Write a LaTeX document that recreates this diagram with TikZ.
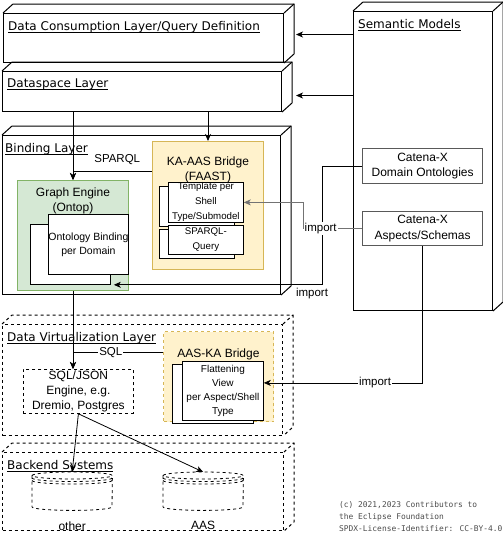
\documentclass[tikz,border=0pt]{standalone}
\usepackage{fontspec}
\setmainfont{Liberation Sans}
\newfontfamily\layerfont{DejaVu Sans}
\newfontfamily\notefont{DejaVu Sans Mono}
\usetikzlibrary{positioning,arrows.meta,shadows}

\definecolor{greenfill}{HTML}{D5E8D4}
\definecolor{greenline}{HTML}{82B366}
\definecolor{yellowfill}{HTML}{FFF2CC}
\definecolor{yellowline}{HTML}{D6B656}

% underline close to the baseline
\newsavebox{\undlbox}
\newcommand{\undl}[1]{\sbox\undlbox{#1}\rlap{\vrule width \wd\undlbox height -1.2pt depth 2.2pt}\usebox\undlbox}
% top and right faces of a layer box
\newcommand{\cubefaces}[2][]{%
  \draw[#1] (#2.north west) -- ++(10,-9) -| ([shift={(10,-9)}]#2.south east) -- (#2.south east);
  \draw[#1] (#2.north east) -- ++(10,-9);}
% data store drum
\newcommand{\dbdraw}[1]{%
  \draw[dbline] ([yshift=-3.5pt]#1.north) ellipse[x radius=40pt, y radius=3.5pt];
  \draw[dbline] ([yshift=-3.5pt]#1.north west) -- ([yshift=3.5pt]#1.south west)
    arc[start angle=180, end angle=360, x radius=40pt, y radius=3.5pt] -- ([yshift=-3.5pt]#1.north east);
  \draw[dbline] ([yshift=-6pt]#1.north west) arc[start angle=180, end angle=360, x radius=40pt, y radius=3.5pt];
  \draw[dbline] ([yshift=-8.5pt]#1.north west) arc[start angle=180, end angle=360, x radius=40pt, y radius=3.5pt];}

\begin{document}
\begin{tikzpicture}[x=1pt, y=-1pt,
  layerbox/.style={draw, line width=1pt, anchor=north west, inner sep=0pt},
  dashbox/.style={layerbox, dash pattern=on 3pt off 3pt},
  cubeline/.style={line width=1pt},
  dashcube/.style={cubeline, dash pattern=on 3pt off 3pt},
  layertitle/.style={anchor=north west, inner sep=0pt, font=\layerfont\fontsize{12}{14}\selectfont},
  greenbox/.style={draw=greenline, fill=greenfill, line width=1pt, anchor=north west, inner sep=0pt},
  yellowbox/.style={draw=yellowline, fill=yellowfill, line width=1pt, anchor=north west, inner sep=0pt},
  inbox/.style={draw, fill=white, line width=0.8pt, anchor=north west, inner sep=0pt, align=center},
  stackbox/.style 2 args={inbox, copy shadow={shadow xshift=#1, shadow yshift=#2, draw=black, fill=white, line width=0.8pt}},
  catbox/.style={inbox, draw=black!65, line width=1.3pt, font=\fontsize{12}{15.5}\selectfont},
  sqlbox/.style={inbox, dash pattern=on 3pt off 3pt, font=\fontsize{12}{15}\selectfont},
  nodetitle/.style={inner sep=0pt, align=center, font=\fontsize{12}{14.5}\selectfont},
  txtmid/.style={font=\fontsize{10.5}{14}\selectfont},
  txtsmall/.style={font=\fontsize{9.7}{15}\selectfont},
  txtflat/.style={font=\fontsize{10}{14.3}\selectfont},
  arr/.style={-{Stealth[length=7pt,width=6pt,inset=2pt]}, line width=0.8pt},
  lbl/.style={inner sep=1pt, font=\fontsize{11.5}{13}\selectfont},
  dbbox/.style={anchor=north west, minimum width=80pt, minimum height=38pt, inner sep=0pt},
  dbline/.style={line width=0.8pt, dash pattern=on 3pt off 3pt},
  dblabel/.style={inner sep=0pt, label distance=11pt, font=\fontsize{12}{14}\selectfont},
  notetext/.style={anchor=north west, inner sep=0pt, align=left, text=black!70, font=\notefont\fontsize{7.9}{12}\selectfont}
]
\useasboundingbox (0,0) rectangle (503,542);

% layers
\node[layerbox, minimum width=280pt, minimum height=49pt] (cons) at (3,13) {};
\cubefaces[cubeline]{cons}
\node[layertitle, below right=8pt and 5pt of cons.north west] (constitle) {\undl{Data Consumption Layer/Query Definition}};

\node[layerbox, minimum width=279pt, minimum height=40pt] (dsl) at (2,71) {};
\cubefaces[cubeline]{dsl}
\node[layertitle, below right=8pt and 5pt of dsl.north west] (dsltitle) {\undl{Dataspace Layer}};

\node[layerbox, minimum width=278pt, minimum height=159pt] (bind) at (2,135) {};
\cubefaces[cubeline]{bind}
\node[layertitle, below right=8pt and 3pt of bind.north west] (bindtitle) {\undl{Binding Layer}};

\node[dashbox, minimum width=280pt, minimum height=111pt] (dvl) at (2,324) {};
\cubefaces[dashcube]{dvl}
\node[layertitle, below right=8pt and 5pt of dvl.north west] (dvltitle) {\undl{Data Virtualization Layer}};

\node[dashbox, minimum width=281pt, minimum height=78pt] (backend) at (2,452) {};
\cubefaces[dashcube]{backend}
\node[layertitle, below right=8pt and 5pt of backend.north west] (backendtitle) {\undl{Backend Systems}};

\node[layerbox, minimum width=139pt, minimum height=299pt] (sem) at (353,11) {};
\cubefaces[cubeline]{sem}
\node[layertitle, below right=8pt and 5pt of sem.north west] (semtitle) {\undl{Semantic Models}};

% semantic models
\node[catbox, minimum width=120pt, minimum height=35pt] (dom) at (362,148) {Catena-X\\Domain Ontologies};
\node[catbox, minimum width=120pt, minimum height=34pt] (asp) at (362,211) {Catena-X\\Aspects/Schemas};

% binding layer
\node[greenbox, minimum width=111pt, minimum height=110pt] (graph) at (17,180) {};
\node[nodetitle, below=8pt of graph.north] (graphtitle) {Graph Engine\\(Ontop)};
\node[stackbox={-18pt}{-10pt}, txtmid, minimum width=80pt, minimum height=60pt] (onto) at (48,214) {Ontology Binding\\per Domain};

\node[yellowbox, minimum width=111pt, minimum height=128pt] (kaas) at (152,141) {};
\node[nodetitle, below=16pt of kaas.north] (kaastitle) {KA-AAS Bridge\\(FAAST)};
\node[stackbox={-9pt}{-4pt}, txtsmall, minimum width=75pt, minimum height=40pt] (tmpl) at (168,182) {Template per\\Shell\\Type/Submodel};
\node[stackbox={-9pt}{-4pt}, txtsmall, minimum width=75pt, minimum height=29pt] (spq) at (168,225) {SPARQL-\\Query};

% data virtualization layer
\node[yellowbox, dash pattern=on 3pt off 3pt, minimum width=110pt, minimum height=90pt] (aaska) at (163,331) {};
\node[nodetitle, below=18pt of aaska.north] (aaskatitle) {AAS-KA Bridge};
\node[stackbox={-10pt}{-3pt}, txtflat, minimum width=81pt, minimum height=59pt] (flat) at (182,361) {Flattening\\View\\per Aspect/Shell\\Type};
\node[sqlbox, minimum width=110pt, minimum height=44pt] (sqlj) at (23,369) {SQL/JSON\\Engine, e.g.\\Dremio, Postgres};

% backend systems
\node[dbbox, label={[dblabel]below:other}] (dbother) at (32,472) {};
\dbdraw{dbother}
\node[dbbox, label={[dblabel]below:AAS}] (dbaas) at (163,472) {};
\dbdraw{dbaas}

\node[notetext] (note) at (339,501) {(c) 2021,2023 Contributors to\\the Eclipse Foundation\\SPDX-License-Identifier: CC-BY-4.0};

% connectors
\coordinate (consin) at ([shift={(12,-3.5)}]cons.east);
\coordinate (dslin) at ([shift={(14,4)}]dsl.east);
\draw[arr] (sem.west |- consin) -- (consin);
\draw[arr] (sem.west |- dslin) -- (dslin);
\draw[arr] (dsl.south -| graph.north) -- (graph.north);
\draw[arr] (dsl.south -| kaas.north) -- (kaas.north);
\coordinate (sparqlout) at ([yshift=34pt]kaas.west);
\draw[arr] (sparqlout) -| node[lbl, pos=0.22, above=5pt] (sparqllbl) {SPARQL} (graph.north);
\coordinate (ontoin) at ([shift={(-15,10)}]onto.south east);
\draw[arr] (dom.west) -- ++(-40,0) |- node[lbl, pos=0.5, anchor=north, xshift=-10pt, yshift=-2pt] (imp1) {import} (ontoin);
\draw[arr, draw=black!55] (asp.west) -- node[lbl, pos=0.7, fill=white] (imp2) {import} ++(-59,0) |- (tmpl.east);
\coordinate (sqlin) at (graph.south |- sqlj.north);
\coordinate (sqlout) at ([yshift=24pt]aaska.west);
\draw[arr] (graph.south) -- (sqlin);
\draw[arr] (sqlout) -| node[lbl, pos=0.29, fill=white] (sqllbl) {SQL} (sqlin);
\coordinate (flatin) at ([yshift=8pt]flat.east);
\draw[arr] (asp.south) |- node[lbl, pos=0.65, fill=white] (imp3) {import} (flatin);
\draw[arr] (sqlj.south) -- (dbother.north);
\draw[arr] (sqlj.south) -- (dbaas.north);
\end{tikzpicture}
\end{document}
